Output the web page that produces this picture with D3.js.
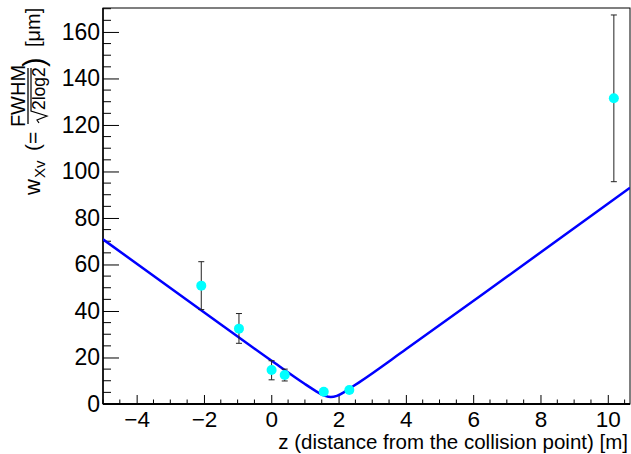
<!DOCTYPE html>
<html><head><meta charset="utf-8">
<script src="https://cdn.jsdelivr.net/npm/d3@7"></script>
<style>body{margin:0;background:#fff}svg{display:block}text{font-family:"Liberation Sans",Arial,Helvetica,sans-serif}</style>
</head><body>
<script>
// Measured points
const zPos   = [-2.08, -0.96, 0.01, 0.40, 1.56, 2.32, 10.18];
const width  = [50.9, 32.4, 14.6, 12.5, 5.3, 6.0, 131.5];
const errLo  = [10.3, 6.3, 4.2, 2.6, 1.2, 1.2, 35.9];
const errHi  = [10.3, 6.5, 4.0, 2.5, 1.2, 1.2, 35.8];
// Fit curve
const fitZ   = [-5, -2, 0, 1, 1.2, 1.4, 1.6, 1.77, 1.95, 2.2, 2.4, 2.6, 4, 7, 10.66];
const fitW   = [70.8, 39.5, 18.7, 8.6, 6.7, 4.9, 3.5, 3.0, 3.5, 5.4, 7.3, 9.2, 23.5, 54.7, 93.0];
const xTicks = [-4, -2, 0, 2, 4, 6, 8, 10];
const yTicks = [0, 20, 40, 60, 80, 100, 120, 140, 160];

const W = 631, H = 454;
const L = 103, R = 630, T = 8, B = 404;
const svg = d3.select("body").append("svg").attr("width", W).attr("height", H);
const x = d3.scaleLinear().domain([-5, 10.66]).range([L, R]);
const y = d3.scaleLinear().domain([0, 170.3]).range([B, T]);

// frame
svg.append("rect").attr("x", L).attr("y", T).attr("width", R - L).attr("height", B - T)
  .attr("fill", "none").attr("stroke", "#000").attr("stroke-width", 1);

// x axis
const xMinor = d3.range(-5, 10.66, 0.5).filter(v => !xTicks.includes(v));
const xAx = svg.append("g").attr("transform", `translate(0,${B})`);
xAx.call(d3.axisBottom(x).tickValues(xTicks).tickSize(-9).tickFormat(d => d < 0 ? "\u2212" + Math.abs(d) : d).tickPadding(7));
xMinor.forEach(v => xAx.append("line").attr("x1", x(v)).attr("x2", x(v)).attr("y1", 0).attr("y2", -4.5).attr("stroke", "#000"));
xAx.select(".domain").attr("stroke", "#000").attr("stroke-width", 2).attr("d", `M${L},0H${R}`);
xAx.selectAll(".tick text").attr("font-size", 22.5).attr("fill", "#000").attr("dy", "0.71em");

// y axis
const yMinor = d3.range(0, 170.3, 5).filter(v => !yTicks.includes(v));
const yAx = svg.append("g").attr("transform", `translate(${L},0)`);
yAx.call(d3.axisLeft(y).tickValues(yTicks).tickSize(-16).tickPadding(4));
yMinor.forEach(v => yAx.append("line").attr("x1", 0).attr("x2", 8).attr("y1", y(v)).attr("y2", y(v)).attr("stroke", "#000"));
yAx.select(".domain").attr("stroke", "#000").attr("stroke-width", 1.5).attr("d", `M0,${T}V${B}`);
yAx.selectAll(".tick text").attr("font-size", 23).attr("fill", "#000").attr("x", -3);

// x title
svg.append("text").attr("x", 628).attr("y", 449).attr("text-anchor", "end").attr("font-size", 20.5)
  .text("z (distance from the collision point) [m]");

// y title (rotated)
const yt = svg.append("g").attr("transform", "translate(40,195) rotate(-90)");
yt.append("text").attr("x", 0).attr("y", 0).attr("font-size", 22).text("w");
yt.append("text").attr("x", 17).attr("y", 5).attr("font-size", 15).text("Xv");
yt.append("text").attr("x", 44).attr("y", 0).attr("font-size", 21).text("(=");
// fraction
yt.append("text").attr("x", 99).attr("y", -15).attr("font-size", 20).attr("text-anchor", "middle").text("FWHM");
yt.append("line").attr("x1", 71).attr("x2", 127).attr("y1", -12).attr("y2", -12).attr("stroke", "#000").attr("stroke-width", 1.3);
yt.append("path").attr("d", "M72,-1 L75,-3 L79,7 L84,-9 L127,-9").attr("fill", "none").attr("stroke", "#000").attr("stroke-width", 1.2);
yt.append("text").attr("x", 85).attr("y", 5).attr("font-size", 17.5).text("2log2");
yt.append("text").attr("x", 128).attr("y", 4).attr("font-size", 29).text(")");
yt.append("text").attr("x", 148).attr("y", 0).attr("font-size", 20).text("[\u03bcm]");

// plot contents clipped
svg.append("clipPath").attr("id", "c").append("rect").attr("x", L).attr("y", T).attr("width", R - L).attr("height", B - T);
const g = svg.append("g").attr("clip-path", "url(#c)");

const fit = fitZ.map((z, i) => [z, fitW[i]]);
g.append("path").datum(fit).attr("fill", "none").attr("stroke", "#0000ff").attr("stroke-width", 2.5)
  .attr("d", d3.line().x(d => x(d[0])).y(d => y(d[1])).curve(d3.curveMonotoneX));

const pts = zPos.map((z, i) => ({z, w: width[i], lo: width[i] - errLo[i], hi: width[i] + errHi[i]}));
const eb = g.selectAll(".eb").data(pts).enter().append("g").attr("stroke", "#222").attr("stroke-width", 1);
eb.append("line").attr("x1", d => x(d.z)).attr("x2", d => x(d.z)).attr("y1", d => y(d.lo)).attr("y2", d => y(d.hi));
eb.append("line").attr("x1", d => x(d.z) - 3).attr("x2", d => x(d.z) + 3).attr("y1", d => y(d.lo)).attr("y2", d => y(d.lo));
eb.append("line").attr("x1", d => x(d.z) - 3).attr("x2", d => x(d.z) + 3).attr("y1", d => y(d.hi)).attr("y2", d => y(d.hi));

g.selectAll(".pt").data(pts).enter().append("circle")
  .attr("cx", d => x(d.z)).attr("cy", d => y(d.w)).attr("r", 5).attr("fill", "#00ffff");
</script>
</body></html>
